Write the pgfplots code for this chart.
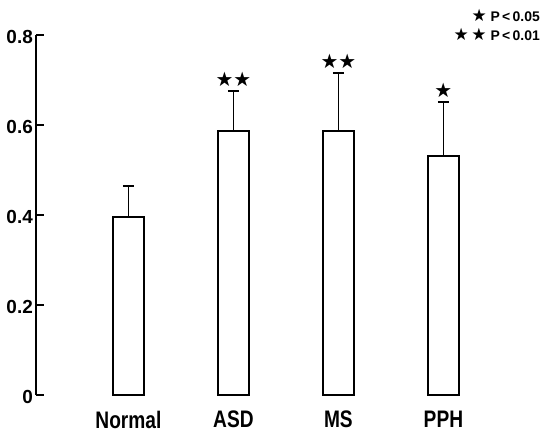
\documentclass[border=0pt]{standalone}
\usepackage{pgfplots}
\pgfplotsset{compat=1.18}
\usepackage{fontspec}
\setmainfont{Liberation Sans}
\newfontfamily\condfont{Liberation Sans}[FakeStretch=0.8]
\newfontfamily\symfont{DejaVu Sans}
\begin{document}
\begin{tikzpicture}
\begin{axis}[
  x=105bp, y=450bp,
  xmin=-0.88, xmax=3.92,
  ymin=0, ymax=0.8,
  clip=false,
  separate axis lines,
  axis y line*=left,
  axis x line*=bottom,
  x axis line style={draw=none},
  y axis line style={-, line width=2.4bp},
  xtick={0,1,2,3},
  xticklabels={Normal,ASD,MS,PPH},
  xtick style={draw=none},
  ytick={0,0.2,0.4,0.6,0.8},
  yticklabels={0,0.2,0.4,0.6,0.8},
  ytick style={line width=2bp, black},
  tick align=inside,
  major tick length=8bp,
  /pgf/number format/assume math mode=true,
  yticklabel style={font=\bfseries\fontsize{19}{19}\selectfont, inner sep=0pt, xshift=-3bp, yshift=-2bp},
  xticklabel style={font=\condfont\bfseries\fontsize{24}{24}\selectfont, inner sep=0pt, anchor=north, yshift=-16bp},
]
\addplot[ybar, bar width=31bp, draw=black, fill=white, line width=2.2bp,
  error bars/.cd, y dir=plus, y explicit,
  error bar style={line width=1.8bp},
  error mark options={rotate=90, line width=2bp, mark size=5.5bp}]
  table[x=x, y=y, y error=e] {
x y e
0 0.396 0.068
1 0.587 0.089
2 0.587 0.129
3 0.531 0.120
};
\addplot[only marks, mark=*, mark size=0pt, mark options={draw=none, fill=none},
  point meta=explicit symbolic,
  nodes near coords,
  nodes near coords style={anchor=south, inner sep=0pt, yshift=4bp, font=\symfont\fontsize{20}{20}\selectfont}]
  coordinates {(1,0.676) [★★] (2,0.716) [★★] (3,0.651) [★]};
\node[anchor=north east, align=right, inner sep=0pt, font=\bfseries\fontsize{14}{19}\selectfont]
  at (axis cs:3.92,0.857) {{\symfont\fontsize{17}{19}\selectfont★} P\,<\,0.05\\{\symfont\fontsize{17}{19}\selectfont★\,★} P\,<\,0.01};
\coordinate (bl) at (axis cs:-1.223,-0.0933);
\coordinate (tr) at (axis cs:3.958,0.8778);
\end{axis}
\path (bl) rectangle (tr);
\end{tikzpicture}
\end{document}
